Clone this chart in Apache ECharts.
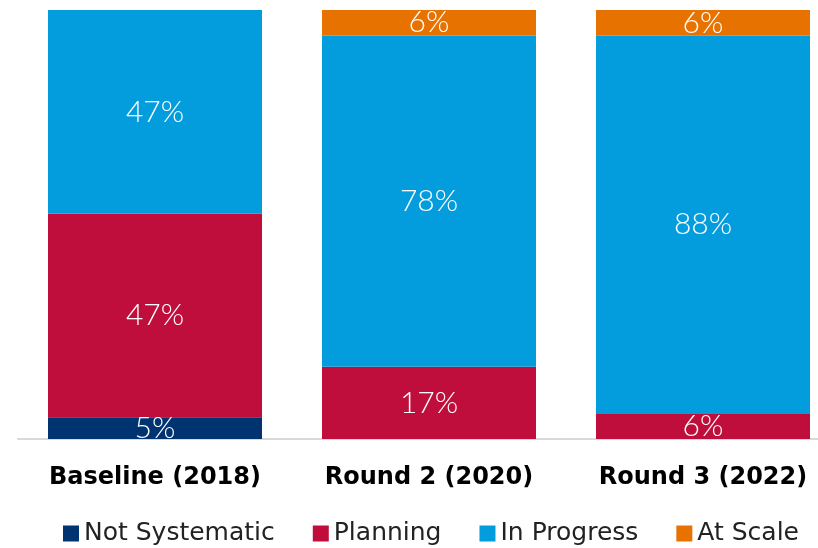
<!DOCTYPE html>
<html>
<head>
<meta charset="utf-8">
<script src="https://cdn.jsdelivr.net/npm/echarts@6/dist/echarts.min.js"></script>
<style>
  html, body { margin: 0; padding: 0; background: #fff; overflow: hidden; }
  #chart { width: 840px; height: 548px; }
</style>
</head>
<body>
<div id="chart"></div>
<script>
var categories = ['Baseline (2018)', 'Round 2 (2020)', 'Round 3 (2022)'];
var notSystematic = [5, 0, 0];
var planning = [47, 17, 6];
var inProgress = [47, 78, 88];
var atScale = [0, 6, 6];

// bars are drawn as 100% stacks, labels show the reported values
var totals = categories.map(function (c, i) {
  return notSystematic[i] + planning[i] + inProgress[i] + atScale[i];
});
function share(arr) {
  return arr.map(function (v, i) { return v ? v / totals[i] * 100 : null; });
}
function makeSeries(name, raw, color) {
  return {
    name: name,
    type: 'bar',
    stack: 'all',
    barWidth: 214,
    data: share(raw),
    itemStyle: { color: color },
    label: {
      show: true,
      position: 'inside',
      color: '#fff',
      fontSize: 30,
      fontFamily: 'Lato',
      fontWeight: 300,
      formatter: function (p) { return raw[p.dataIndex] + '%'; }
    }
  };
}

// chart div is a bit wider than the window so the last bar sits like the original
var myChart = echarts.init(document.getElementById('chart'));
var option = {
  animation: false,
  grid: { left: 18, right: 0, top: 10, bottom: 109 },
  legend: {
    bottom: -3,
    left: 58,
    icon: 'rect',
    itemWidth: 16,
    itemHeight: 16,
    itemGap: 38,
    textStyle: { fontSize: 25, fontFamily: 'DejaVu Sans', color: '#222' },
    data: ['Not Systematic', 'Planning', 'In Progress', 'At Scale']
  },
  xAxis: {
    type: 'category',
    data: categories,
    axisTick: { show: false },
    axisLine: { lineStyle: { color: '#d9d9d9', width: 2 } },
    axisLabel: {
      interval: 0,
      fontSize: 24,
      fontWeight: 'bold',
      fontFamily: 'DejaVu Sans',
      color: '#000',
      margin: 27
    }
  },
  yAxis: {
    type: 'value',
    min: 0,
    max: 100,
    show: false,
    splitLine: { show: false }
  },
  series: [
    makeSeries('Not Systematic', notSystematic, '#00336f'),
    makeSeries('Planning', planning, '#c00e3c'),
    makeSeries('In Progress', inProgress, '#039ddd'),
    makeSeries('At Scale', atScale, '#e87200')
  ]
};
myChart.setOption(option);
</script>
</body>
</html>
